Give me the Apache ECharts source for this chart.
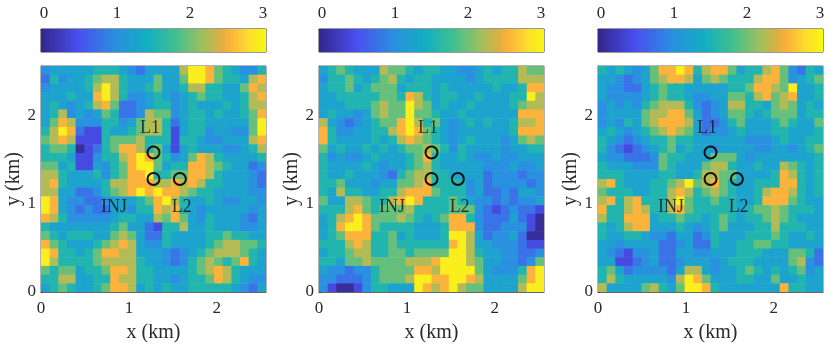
<!DOCTYPE html>
<html><head><meta charset="utf-8">
<style>html,body{margin:0;padding:0;background:#fff}#c{width:829px;height:347px}</style>
<script src="https://cdn.jsdelivr.net/npm/echarts@6/dist/echarts.min.js"></script>
</head><body><div id="c"></div>
<script>
const extentKm = 2.56;
const xTicks = [0,1,2];
const yTicks = [0,1,2];
const barTicks = [0,1,2,3];
const wells = [[1.28,1.58],[1.28,1.28],[1.58,1.28]];
const wellLabels = [['L1',1.24,1.86],['INJ',0.83,0.96],['L2',1.60,0.96]];
const panelLeft = [41,319,598];
const colorStops = [[-0.04,'#33278a'],[0.475,'#4a50f0'],[0.98,'#2a90e0'],[1.43,'#14b0c0'],[1.8,'#40c090'],[2.16,'#9cc060'],[2.44,'#e0b040'],[2.53,'#fbb03c'],[2.8,'#fcdc30'],[3.04,'#f8f810']];
const barLevels = [];
for (let i=0;i<308;i++) barLevels.push(-0.04+i*0.01);
// value read for each estimated digit class
const digitValues = [0.05,0.4,0.75,1.0,1.25,1.55,1.95,2.25,2.55,2.95];

// digit class per block, top row first
const panelA = [
"34444 45554 32444 47998 65433 5",
"25344 56775 44464 46998 65547 8",
"34444 57975 44564 45775 54468 7",
"44454 48975 33454 34565 54457 8",
"45434 57862 23455 34544 45457 7",
"45734 34652 23766 34554 54456 8",
"46873 33553 46775 24554 44446 9",
"57982 11544 56775 14553 44336 9",
"67871 11566 67555 15543 34447 8",
"56650 12568 87564 14544 43345 7",
"55541 13557 89865 34687 54444 5",
"66451 14356 89964 55887 65442 3",
"77544 45356 88955 66887 54443 2",
"78544 44577 88877 87875 54443 2",
"77442 23567 89898 87655 44443 3",
"98433 22344 45689 75445 43344 3",
"98432 32244 35587 85434 44443 4",
"87533 33345 54476 86435 44432 4",
"54444 44456 44215 57445 44433 4",
"65455 54467 64225 44445 56554 4",
"86544 45678 74335 44445 67766 5",
"98554 56887 74443 23456 77765 4",
"97555 56777 75443 23567 65685 4",
"65664 55688 75544 44567 87544 4",
"55774 45587 75544 34556 87543 3",
"45654 45688 74545 44555 55432 4"];
const panelB = [
"45654 44766 54554 43345 45576 6",
"35565 45675 45544 44345 55577 7",
"45564 56664 55545 44444 54458 8",
"44555 55665 87545 54454 44559 7",
"44455 56766 97645 44544 44567 7",
"45443 46766 96654 45444 44488 8",
"74323 45668 97564 34545 44577 8",
"85334 45578 98654 34444 44588 8",
"85444 45457 87654 34544 43467 6",
"64544 54545 66765 35444 43445 5",
"53433 45444 56854 45433 43344 4",
"54444 54344 56754 44443 33433 4",
"54454 44325 67755 44442 33323 3",
"55644 43446 67855 55342 33332 3",
"54755 44557 88865 55342 23244 3",
"64477 65578 98555 65433 23233 4",
"55578 65666 75555 66632 12322 1",
"45789 86667 65456 88532 22421 0",
"45899 86555 54445 88832 23331 0",
"45688 85564 54445 99742 33420 0",
"55578 75565 55555 89744 33321 1",
"45567 75566 56666 99754 43322 3",
"55466 76666 77789 99764 43323 6",
"43323 35666 68879 99964 33358 9",
"33222 35666 79988 99874 44468 9",
"31001 35544 49878 97664 44479 9"];
const panelC = [
"54543 46889 85788 64557 86325 4",
"44323 46788 74676 55578 86345 6",
"43322 45655 44444 55688 76944 5",
"43333 45655 43344 66578 67844 5",
"34343 56777 53234 77554 67645 4",
"34444 67788 64234 66545 66645 5",
"34354 67888 74223 56444 56544 6",
"45434 56787 64233 45444 55444 5",
"54323 45565 54444 44333 45445 5",
"53212 34564 54434 44433 44345 6",
"43322 23655 44466 64344 44444 5",
"54443 33654 44677 54454 47654 5",
"55544 44554 45776 64444 58754 5",
"78544 45567 96786 54455 58854 5",
"65554 45578 75676 54457 88754 5",
"78578 55579 65565 54458 88654 4",
"85578 75578 65555 54566 76555 4",
"75588 84556 55456 54556 76544 4",
"54578 84445 43456 44455 75554 4",
"54455 43324 42354 44555 65445 4",
"44344 44223 42254 45566 55444 4",
"43213 34224 43344 45554 44665 2",
"44112 34223 44434 55544 44673 2",
"56423 33324 77434 45654 54563 4",
"57544 44437 98644 45544 64454 4",
"74444 67546 99854 44444 48554 4"];
const panels = [panelA,panelB,panelC];

function hex(c){return [1,3,5].map(i=>parseInt(c.substr(i,2),16));}
function colorOf(v){
  for(let i=1;i<colorStops.length;i++){
    if(v<=colorStops[i][0]){
      const a=colorStops[i-1],b=colorStops[i],t=Math.max(0,(v-a[0])/(b[0]-a[0]));
      const p=hex(a[1]),q=hex(b[1]);
      return 'rgb('+p.map((x,k)=>Math.round(x+(q[k]-x)*t)).join(',')+')';
    }
  }
  return colorStops[colorStops.length-1][1];
}
const serif='"Liberation Serif","Times New Roman",serif';
const ink='#2a2a2a';
const grids=[],xAxes=[],yAxes=[],series=[];
function cellRender(params,api){
  const a=api.coord([api.value(0),api.value(1)]);
  const b=api.coord([api.value(2),api.value(3)]);
  return {type:'rect',shape:{x:Math.min(a[0],b[0]),y:Math.min(a[1],b[1]),width:Math.abs(b[0]-a[0])+1,height:Math.abs(b[1]-a[1])+0.5},
    style:{fill:colorOf(api.value(4))}};
}
panels.forEach((rows,i)=>{
  const g=i*2, left=panelLeft[i];
  grids.push({left:left,top:66,width:225,height:226,outerBoundsMode:'none',show:true,borderColor:'#666',borderWidth:1,backgroundColor:'transparent'});
  grids.push({left:left,top:29,width:225,height:23,outerBoundsMode:'none',show:true,borderColor:'#333',borderWidth:1,backgroundColor:'transparent'});
  xAxes.push({gridIndex:g,type:'value',min:0,max:extentKm,name:'x (km)',nameLocation:'middle',nameGap:31,
    nameTextStyle:{fontFamily:serif,fontSize:20,color:ink},
    axisLine:{show:true,onZero:false,lineStyle:{color:'#666'}},axisTick:{show:true,customValues:xTicks,inside:true,length:2,lineStyle:{color:'#333'}},splitLine:{show:false},
    axisLabel:{customValues:xTicks,fontFamily:serif,fontSize:17,color:ink,margin:8}});
  yAxes.push({gridIndex:g,type:'value',min:0,max:extentKm,name:'y (km)',nameLocation:'middle',nameGap:17,
    nameTextStyle:{fontFamily:serif,fontSize:20,color:ink},
    axisLine:{show:true,onZero:false,lineStyle:{color:'#666'}},axisTick:{show:true,customValues:yTicks,inside:true,length:2,lineStyle:{color:'#333'}},splitLine:{show:false},
    axisLabel:{customValues:yTicks,fontFamily:serif,fontSize:17,color:ink,margin:5}});
  xAxes.push({gridIndex:g+1,type:'value',min:-0.04,max:3.04,position:'top',
    axisLine:{show:true,onZero:false,lineStyle:{color:'#333'}},axisTick:{show:true,customValues:barTicks,inside:true,length:2,lineStyle:{color:'#222'}},splitLine:{show:false},
    axisLabel:{customValues:barTicks,fontFamily:serif,fontSize:17,color:ink,margin:7}});
  yAxes.push({gridIndex:g+1,type:'value',min:0,max:1,show:false,splitLine:{show:false}});
  const n=rows.length, w=extentKm/n, cells=[];
  rows.forEach((s,r)=>{
    const d=s.replace(/ /g,'');
    for(let c=0;c<d.length;c++){
      cells.push([c*w,extentKm-r*w,(c+1)*w,extentKm-(r+1)*w,digitValues[+d[c]]]);
    }
  });
  series.push({type:'custom',coordinateSystem:'cartesian2d',xAxisIndex:g,yAxisIndex:g,data:cells,renderItem:cellRender,clip:true,silent:true,animation:false,encode:{x:[0,2],y:[1,3]}});
  series.push({type:'custom',coordinateSystem:'cartesian2d',xAxisIndex:g+1,yAxisIndex:g+1,
    data:barLevels.map(v=>[v,0,v+0.01,1,v+0.005]),renderItem:cellRender,clip:true,silent:true,animation:false,encode:{x:[0,2],y:[1,3]}});
  series.push({type:'scatter',xAxisIndex:g,yAxisIndex:g,data:wells,symbol:'circle',symbolSize:12,z:5,silent:true,animation:false,
    itemStyle:{color:'transparent',borderColor:'#111',borderWidth:2,opacity:1}});
  series.push({type:'scatter',xAxisIndex:g,yAxisIndex:g,data:wellLabels.map(l=>({name:l[0],value:[l[1],l[2]]})),symbol:'circle',symbolSize:1,z:6,silent:true,animation:false,
    itemStyle:{color:'transparent'},
    label:{show:true,position:'inside',formatter:'{b}',fontFamily:serif,fontSize:18,color:'#111'}});
});
const chart=echarts.init(document.getElementById('c'),null,{renderer:'canvas'});
chart.setOption({animation:false,grid:grids,xAxis:xAxes,yAxis:yAxes,series:series});
</script></body></html>
